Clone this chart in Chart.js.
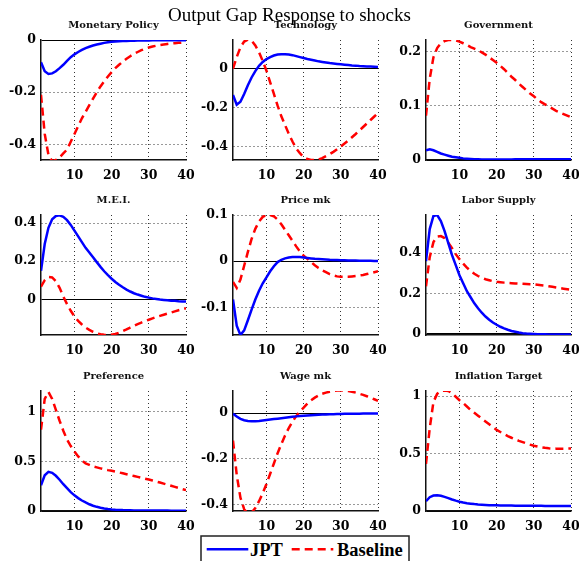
<!DOCTYPE html>
<html>
<head>
<meta charset="utf-8">
<script src="https://cdn.jsdelivr.net/npm/chart.js@4.4.1/dist/chart.umd.min.js"></script>
<style>
  body { margin: 0; background: #fff; }
  #page { position: relative; width: 579px; height: 561px; overflow: hidden; background: #fff; }
  .panel { position: absolute; width: 203px; height: 172px; }
  #title { position: absolute; left: 0; top: 5px; width: 579px; text-align: center;
           font: 19px/19px "Liberation Serif", serif; color: #000; z-index: 5; }
  #legend { position: absolute; left: 200px; top: 535px; z-index: 5; }
</style>
</head>
<body>
<div id="page">
  <canvas class="panel" id="c1" width="203" height="172" style="left:1px;top:10px"></canvas>
  <canvas class="panel" id="c2" width="203" height="172" style="left:193px;top:10px"></canvas>
  <canvas class="panel" id="c3" width="203" height="172" style="left:386px;top:10px"></canvas>
  <canvas class="panel" id="c4" width="203" height="172" style="left:1px;top:185px"></canvas>
  <canvas class="panel" id="c5" width="203" height="172" style="left:193px;top:185px"></canvas>
  <canvas class="panel" id="c6" width="203" height="172" style="left:386px;top:185px"></canvas>
  <canvas class="panel" id="c7" width="203" height="172" style="left:1px;top:361px"></canvas>
  <canvas class="panel" id="c8" width="203" height="172" style="left:193px;top:361px"></canvas>
  <canvas class="panel" id="c9" width="203" height="172" style="left:386px;top:361px"></canvas>
  <div id="title">Output Gap Response to shocks</div>
  <svg id="legend" width="212" height="26">
    <rect x="1" y="1" width="208" height="40" fill="#fff" stroke="#222" stroke-width="1.5"></rect>
    <line x1="6.7" y1="14.3" x2="48.3" y2="14.3" stroke="#0000ff" stroke-width="2.5"></line>
    <text x="50" y="20.7" font-family="Liberation Serif" font-weight="bold" font-size="18.5">JPT</text>
    <line x1="91.7" y1="14.3" x2="133.3" y2="14.3" stroke="#ff0000" stroke-width="2.5" stroke-dasharray="8,5"></line>
    <text x="137" y="20.7" font-family="Liberation Serif" font-weight="bold" font-size="18.5">Baseline</text>
  </svg>
</div>
<script>
// periodos 1..40 y marcas del eje x
const periods = Array.from({length: 40}, (_, i) => i + 1);
const xTicks = [10, 20, 30, 40];

// Monetary Policy
const monetaryJPT = [-0.085, -0.12, -0.13, -0.128, -0.12, -0.108, -0.095, -0.08, -0.066, -0.055,
  -0.046, -0.038, -0.031, -0.026, -0.021, -0.017, -0.014, -0.011, -0.009, -0.007,
  -0.006, -0.005, -0.004, -0.0035, -0.003, -0.0025, -0.002, -0.002, -0.0015, -0.0015,
  -0.001, -0.001, -0.001, -0.001, -0.001, -0.0008, -0.0006, -0.0005, -0.0005, -0.0005];
const monetaryBase = [-0.21, -0.36, -0.44, -0.465, -0.46, -0.45, -0.435, -0.42, -0.39, -0.36,
  -0.33, -0.3, -0.275, -0.25, -0.225, -0.2, -0.178, -0.158, -0.14, -0.123,
  -0.108, -0.095, -0.083, -0.072, -0.062, -0.053, -0.046, -0.039, -0.034, -0.029,
  -0.025, -0.022, -0.019, -0.017, -0.015, -0.013, -0.012, -0.011, -0.01, -0.009];
const monetaryTicks = [-0.4, -0.2, 0];

// Technology
const techJPT = [-0.135, -0.185, -0.17, -0.13, -0.085, -0.045, -0.012, 0.015, 0.035, 0.05,
  0.06, 0.068, 0.073, 0.075, 0.075, 0.073, 0.07, 0.065, 0.06, 0.055,
  0.05, 0.046, 0.042, 0.038, 0.035, 0.032, 0.029, 0.027, 0.025, 0.023,
  0.021, 0.019, 0.017, 0.016, 0.014, 0.013, 0.012, 0.011, 0.01, 0.009];
const techBase = [0.0, 0.06, 0.11, 0.14, 0.15, 0.145, 0.12, 0.085, 0.04, -0.01,
  -0.07, -0.13, -0.19, -0.245, -0.29, -0.335, -0.375, -0.41, -0.435, -0.455,
  -0.465, -0.47, -0.47, -0.468, -0.46, -0.45, -0.44, -0.428, -0.415, -0.4,
  -0.385, -0.37, -0.353, -0.336, -0.318, -0.3, -0.282, -0.264, -0.246, -0.228];
const techTicks = [-0.4, -0.2, 0];

// Government
const govJPT = [0.018, 0.02, 0.018, 0.015, 0.012, 0.01, 0.008, 0.006, 0.005, 0.004,
  0.003, 0.0025, 0.002, 0.0015, 0.0012, 0.001, 0.001, 0.001, 0.001, 0.001,
  0.001, 0.001, 0.001, 0.001, 0.0012, 0.0012, 0.0012, 0.0013, 0.0013, 0.0013,
  0.0014, 0.0014, 0.0014, 0.0015, 0.0015, 0.0015, 0.0015, 0.0015, 0.0015, 0.0015];
const govBase = [0.082, 0.15, 0.19, 0.207, 0.216, 0.22, 0.222, 0.222, 0.221, 0.219,
  0.216, 0.213, 0.209, 0.206, 0.203, 0.199, 0.195, 0.19, 0.185, 0.18,
  0.174, 0.168, 0.161, 0.154, 0.148, 0.141, 0.135, 0.129, 0.123, 0.118,
  0.112, 0.107, 0.103, 0.099, 0.095, 0.091, 0.088, 0.085, 0.082, 0.079];
const govTicks = [0, 0.1, 0.2];

// M.E.I.
const meiJPT = [0.15, 0.29, 0.375, 0.42, 0.437, 0.44, 0.432, 0.415, 0.39, 0.36,
  0.33, 0.3, 0.27, 0.245, 0.22, 0.195, 0.17, 0.147, 0.127, 0.108,
  0.091, 0.076, 0.063, 0.051, 0.041, 0.032, 0.025, 0.019, 0.013, 0.009,
  0.005, 0.002, -0.001, -0.003, -0.005, -0.007, -0.008, -0.01, -0.011, -0.012];
const meiBase = [0.066, 0.1, 0.117, 0.115, 0.095, 0.06, 0.015, -0.025, -0.06, -0.09,
  -0.113, -0.132, -0.148, -0.16, -0.17, -0.178, -0.183, -0.186, -0.187, -0.185,
  -0.181, -0.175, -0.167, -0.158, -0.148, -0.139, -0.13, -0.122, -0.114, -0.107,
  -0.1, -0.093, -0.087, -0.081, -0.075, -0.069, -0.063, -0.057, -0.052, -0.047];
const meiTicks = [0, 0.2, 0.4];

// Price mk
const priceJPT = [-0.083, -0.14, -0.16, -0.15, -0.128, -0.105, -0.083, -0.064, -0.048, -0.035,
  -0.022, -0.011, -0.002, 0.003, 0.006, 0.008, 0.009, 0.009, 0.009, 0.008,
  0.007, 0.006, 0.005, 0.0045, 0.004, 0.0035, 0.003, 0.0027, 0.0024, 0.0021,
  0.0018, 0.0016, 0.0014, 0.0012, 0.001, 0.0009, 0.0008, 0.0007, 0.0006, 0.0005];
const priceBase = [-0.045, -0.058, -0.04, -0.01, 0.02, 0.048, 0.07, 0.086, 0.096, 0.1,
  0.1, 0.097, 0.09, 0.08, 0.068, 0.056, 0.044, 0.032, 0.021, 0.012,
  0.005, -0.002, -0.009, -0.015, -0.02, -0.024, -0.028, -0.031, -0.033, -0.034,
  -0.034, -0.034, -0.033, -0.032, -0.031, -0.03, -0.028, -0.026, -0.024, -0.022];
const priceTicks = [-0.1, 0, 0.1];

// Labor Supply
const laborJPT = [0.36, 0.52, 0.585, 0.59, 0.56, 0.51, 0.45, 0.39, 0.34, 0.29,
  0.25, 0.21, 0.18, 0.15, 0.125, 0.103, 0.084, 0.068, 0.054, 0.043,
  0.033, 0.025, 0.018, 0.012, 0.008, 0.004, 0.001, -0.001, -0.002, -0.003,
  -0.004, -0.004, -0.004, -0.005, -0.005, -0.005, -0.005, -0.005, -0.005, -0.005];
const laborBase = [0.235, 0.38, 0.455, 0.482, 0.485, 0.475, 0.452, 0.425, 0.395, 0.37,
  0.348, 0.328, 0.311, 0.297, 0.286, 0.277, 0.27, 0.265, 0.26, 0.257,
  0.255, 0.253, 0.251, 0.25, 0.249, 0.248, 0.247, 0.246, 0.245, 0.244,
  0.242, 0.24, 0.238, 0.235, 0.232, 0.229, 0.226, 0.223, 0.22, 0.217];
const laborTicks = [0, 0.2, 0.4];

// Preference
const prefJPT = [0.26, 0.36, 0.395, 0.385, 0.355, 0.315, 0.27, 0.23, 0.19, 0.158,
  0.13, 0.106, 0.086, 0.068, 0.053, 0.042, 0.033, 0.026, 0.02, 0.016,
  0.013, 0.011, 0.009, 0.008, 0.007, 0.006, 0.006, 0.005, 0.005, 0.005,
  0.004, 0.004, 0.004, 0.004, 0.004, 0.003, 0.003, 0.003, 0.003, 0.003];
const prefBase = [0.82, 1.13, 1.2, 1.13, 1.02, 0.91, 0.81, 0.72, 0.655, 0.6,
  0.55, 0.51, 0.48, 0.465, 0.45, 0.44, 0.43, 0.42, 0.412, 0.405,
  0.397, 0.389, 0.38, 0.371, 0.362, 0.353, 0.344, 0.335, 0.326, 0.317,
  0.307, 0.297, 0.287, 0.276, 0.265, 0.254, 0.243, 0.232, 0.221, 0.21];
const prefTicks = [0, 0.5, 1];

// Wage mk
const wageJPT = [-0.002, -0.015, -0.025, -0.031, -0.034, -0.035, -0.035, -0.034, -0.032, -0.03,
  -0.028, -0.026, -0.024, -0.022, -0.02, -0.018, -0.016, -0.014, -0.012, -0.011,
  -0.01, -0.009, -0.008, -0.007, -0.006, -0.0055, -0.005, -0.0045, -0.004, -0.0035,
  -0.003, -0.0028, -0.0025, -0.0022, -0.002, -0.0018, -0.0016, -0.0014, -0.0012, -0.001];
const wageBase = [-0.12, -0.27, -0.37, -0.42, -0.44, -0.435, -0.415, -0.385, -0.35, -0.31,
  -0.265, -0.22, -0.175, -0.135, -0.098, -0.065, -0.037, -0.013, 0.008, 0.024,
  0.042, 0.056, 0.068, 0.077, 0.085, 0.09, 0.094, 0.097, 0.099, 0.1,
  0.099, 0.097, 0.094, 0.09, 0.085, 0.08, 0.074, 0.068, 0.061, 0.054];
const wageTicks = [-0.4, -0.2, 0];

// Inflation Target
const inflJPT = [0.085, 0.12, 0.135, 0.137, 0.132, 0.123, 0.112, 0.1, 0.09, 0.081,
  0.074, 0.068, 0.064, 0.06, 0.057, 0.055, 0.053, 0.051, 0.05, 0.049,
  0.048, 0.048, 0.047, 0.047, 0.046, 0.046, 0.046, 0.045, 0.045, 0.045,
  0.045, 0.045, 0.044, 0.044, 0.044, 0.044, 0.044, 0.044, 0.044, 0.044];
const inflBase = [0.41, 0.72, 0.95, 1.02, 1.045, 1.05, 1.045, 1.025, 0.995, 0.965,
  0.94, 0.91, 0.88, 0.855, 0.83, 0.805, 0.78, 0.755, 0.73, 0.706,
  0.688, 0.67, 0.653, 0.638, 0.624, 0.611, 0.6, 0.589, 0.578, 0.568,
  0.561, 0.555, 0.55, 0.546, 0.544, 0.543, 0.543, 0.543, 0.544, 0.545];
const inflTicks = [0, 0.5, 1];

const tickFont = { family: 'DejaVu Serif', size: 12.5, weight: 'bold' };

// titulo de cada panel, centrado sobre el area del grafico
const panelTitle = {
    id: 'panelTitle',
    afterDraw: function(chart, args, opts) {
        var a = chart.chartArea;
        var ctx = chart.ctx;
        ctx.save();
        ctx.font = 'bold 10px "DejaVu Serif"';
        ctx.fillStyle = '#111';
        ctx.textAlign = 'center';
        ctx.textBaseline = 'middle';
        ctx.fillText(opts.text, (a.left + a.right) / 2, a.top - 15);
        ctx.restore();
    }
};

function toPoints(values) {
    return values.map(function(v, i) { return { x: periods[i], y: v }; });
}

function crearPanel(id, titulo, jpt, base, yMin, yMax, yTicks) {
    var ctx = document.getElementById(id).getContext('2d');
    return new Chart(ctx, {
        type: 'line',
        data: {
            datasets: [{
                label: 'JPT',
                data: toPoints(jpt),
                borderColor: '#0000ff',
                borderWidth: 2.5,
                pointRadius: 0,
                tension: 0
            }, {
                label: 'Baseline',
                data: toPoints(base),
                borderColor: '#ff0000',
                borderWidth: 2.5,
                borderDash: [8, 5],
                pointRadius: 0,
                tension: 0
            }]
        },
        plugins: [panelTitle],
        options: {
            responsive: false,
            animation: false,
            layout: { padding: { left: 0, right: 18, top: 30, bottom: 0 } },
            plugins: {
                legend: { display: false },
                tooltip: { enabled: false },
                title: { display: false },
                panelTitle: { text: titulo }
            },
            scales: {
                x: {
                    type: 'linear',
                    min: 1,
                    max: 40,
                    afterBuildTicks: function(s) { s.ticks = xTicks.map(function(v) { return { value: v }; }); },
                    afterFit: function(s) { s.height = 22; },
                    ticks: { color: '#000', font: tickFont, padding: 8, maxRotation: 0,
                             callback: function(v) { return String(v); } },
                    grid: { color: '#333', lineWidth: 1, drawTicks: false },
                    border: { display: true, color: '#111', width: 1.5, dash: [1, 3] }
                },
                y: {
                    min: yMin,
                    max: yMax,
                    afterBuildTicks: function(s) { s.ticks = yTicks.map(function(v) { return { value: v }; }); },
                    afterFit: function(s) { s.width = 40; },
                    ticks: { color: '#000', font: tickFont, padding: 5,
                             callback: function(v) { return String(v); } },
                    grid: {
                        lineWidth: 1,
                        drawTicks: false,
                        color: function(c) { return (c.tick && c.tick.value === 0) ? '#000' : '#333'; }
                    },
                    border: {
                        display: true, color: '#111', width: 1.5,
                        dash: function(c) { return (c.tick && c.tick.value === 0) ? [] : [1, 3]; }
                    }
                }
            }
        }
    });
}

crearPanel('c1', 'Monetary Policy', monetaryJPT, monetaryBase, -0.46, 0, monetaryTicks);
crearPanel('c2', 'Technology', techJPT, techBase, -0.47, 0.148, techTicks);
crearPanel('c3', 'Government', govJPT, govBase, 0, 0.222, govTicks);
crearPanel('c4', 'M.E.I.', meiJPT, meiBase, -0.187, 0.442, meiTicks);
crearPanel('c5', 'Price mk', priceJPT, priceBase, -0.16, 0.1, priceTicks);
crearPanel('c6', 'Labor Supply', laborJPT, laborBase, -0.008, 0.59, laborTicks);
crearPanel('c7', 'Preference', prefJPT, prefBase, 0, 1.21, prefTicks);
crearPanel('c8', 'Wage mk', wageJPT, wageBase, -0.428, 0.097, wageTicks);
crearPanel('c9', 'Inflation Target', inflJPT, inflBase, 0, 1.045, inflTicks);
</script>
</body>
</html>
